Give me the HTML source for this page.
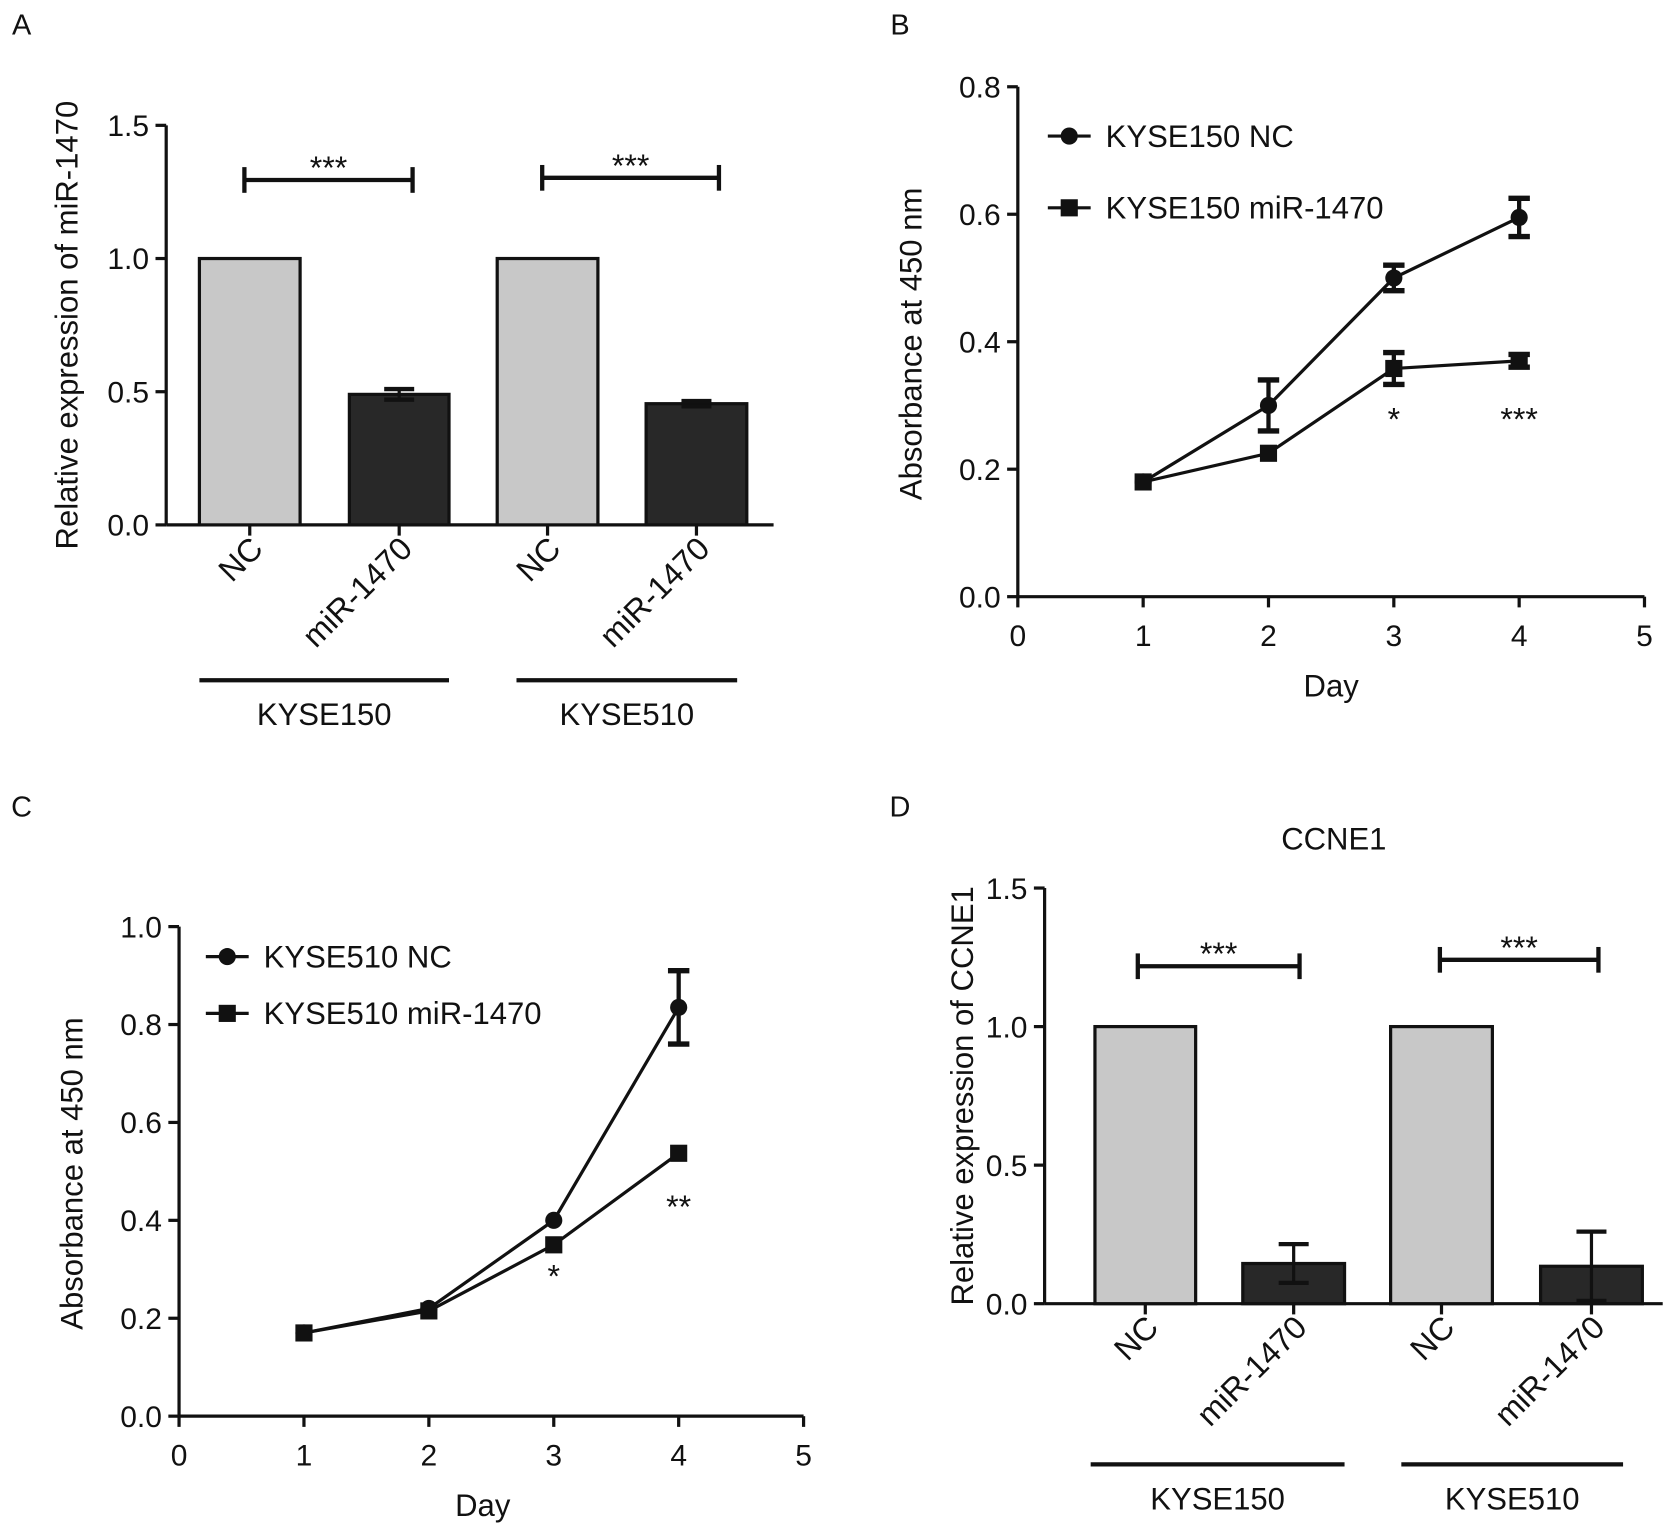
<!DOCTYPE html>
<html><head><meta charset="utf-8"><style>
html,body{margin:0;padding:0;background:#fff;}
svg{display:block;font-family:"Liberation Sans",Arial,sans-serif;}
</style></head><body>
<svg id="fig" width="1680" height="1534" viewBox="0 0 1568 1432" xmlns="http://www.w3.org/2000/svg"></svg>
<script>
// ---- Data ----
const barCats = ["NC","miR-1470","NC","miR-1470"];
const barGroups = ["KYSE150","KYSE510"];
const aValues = [1, 0.49, 1, 0.455];
const aErrors = [0, 0.02, 0, 0.01];
const dValues = [1, 0.145, 1, 0.135];
const dErrors = [0, 0.07, 0, 0.125];
const barTicks = [0, 0.5, 1.0, 1.5];
const days = [1, 2, 3, 4];
const dayTicks = [0, 1, 2, 3, 4, 5];
const bNC = [0.18, 0.30, 0.50, 0.595];
const bNCerr = [0, 0.04, 0.02, 0.03];
const bMiR = [0.18, 0.225, 0.358, 0.37];
const bMiRerr = [0, 0, 0.025, 0.01];
const bTicks = [0, 0.2, 0.4, 0.6, 0.8];
const bStars = ["", "", "*", "***"];
const cNC = [0.17, 0.22, 0.40, 0.835];
const cNCerr = [0, 0, 0, 0.075];
const cMiR = [0.17, 0.215, 0.35, 0.537];
const cMiRerr = [0, 0, 0, 0];
const cTicks = [0, 0.2, 0.4, 0.6, 0.8, 1.0];
const cStars = ["", "", "*", "**"];

const svg = document.getElementById('fig');
const NS = "http://www.w3.org/2000/svg";
function el(tag, attrs, parent, text){
  const e = document.createElementNS(NS, tag);
  for (const k in attrs) e.setAttribute(k, attrs[k]);
  if (text !== undefined) e.textContent = text;
  (parent || svg).appendChild(e);
  return e;
}
function line(x1,y1,x2,y2,w,g){ return el('line',{x1,y1,x2,y2,stroke:'#111','stroke-width':w||3},g); }
function txt(x,y,s,size,anchor,g,extra){
  const a = Object.assign({x,y,'font-size':size||26,'text-anchor':anchor||'middle',fill:'#111'}, extra||{});
  return el('text',a,g,s);
}

[["A",20,32],["B",840,32],["C",20,762],["D",840,762]].forEach(p=>{
  const t = txt(p[1],p[2],p[0],27,'middle');
  
  
});

function barPanel(cfg){
  const g = el('g',{});
  
  
  const y = v => cfg.y0 - v/1.5*(cfg.y0-cfg.y15);
  const ax = line(cfg.ax, cfg.y15, cfg.ax, cfg.y0, 3, g);
   
  const xa = line(cfg.ax, cfg.y0, cfg.xend, cfg.y0, 3, g);
   
  barTicks.forEach(t=>{
    line(cfg.ax-10, y(t), cfg.ax, y(t), 3, g);
    const l = txt(cfg.ax-16, y(t)+10, t.toFixed(1), 28, 'end', g);
     
  });
  const yt = txt(0,0,cfg.ytitle,29,'middle',g,{transform:`translate(${cfg.ytx},${(cfg.y0+cfg.y15)/2}) rotate(-90)`});
   
  cfg.vals.forEach((v,i)=>{
    const [x1,x2] = cfg.bars[i];
    const cx = (x1+x2)/2;
    const r = el('rect',{x:x1,y:y(v),width:x2-x1,height:cfg.y0-y(v),fill:i%2?'#282828':'#c8c8c8',stroke:'#111','stroke-width':3},g);
    
    
    const e = cfg.errs[i];
    if (e>0){
      line(cx,y(v+e),cx,y(v-e),3,g);
      line(cx-14,y(v+e),cx+14,y(v+e),4,g);
      line(cx-14,y(v-e),cx+14,y(v-e),4,g);
    }
    line(cx,cfg.y0,cx,cfg.y0+10,3,g);
    const lab = txt(0,0,barCats[i],30,'end',g,{transform:`translate(${cx+14},${cfg.y0+24}) rotate(-45)`});
     
  });
  cfg.groups.forEach((gr,k)=>{
    const gl = line(gr[0],cfg.gy,gr[1],cfg.gy,4,g);
     
    const t = txt((gr[0]+gr[1])/2, cfg.gy+42, barGroups[k], 29, 'middle', g);
     
  });
  cfg.brackets.forEach(b=>{
    line(b[0],b[2],b[1],b[2],4,g);
    line(b[0],b[2]-12,b[0],b[2]+12,4,g);
    line(b[1],b[2]-12,b[1],b[2]+12,4,g);
    const s = txt((b[0]+b[1])/2, b[2]-1, '***', 30, 'middle', g);
     
  });
  if (cfg.title){
    const t = txt(cfg.title[1], cfg.title[2], cfg.title[0], 29, 'middle', g);
     
  }
}

barPanel({name:'panel-a', ax:155, xend:722, y0:490, y15:117, ytx:72,
  ytitle:'Relative expression of miR-1470', vals:aValues, errs:aErrors,
  bars:[[186,280],[326,419],[464,558],[603,697]], gy:635,
  groups:[[186,419],[482,688]], brackets:[[228,385,168],[506,671,166]]});
barPanel({name:'panel-d', ax:975, xend:1552, y0:1217, y15:829, ytx:908,
  ytitle:'Relative expression of CCNE1', vals:dValues, errs:dErrors,
  bars:[[1022,1116],[1160,1255],[1298,1393],[1438,1533]], gy:1367,
  groups:[[1018,1255],[1308,1515]], brackets:[[1062,1213,902],[1344,1492,896]],
  title:['CCNE1',1245,793]});

function linePanel(cfg){
  const g = el('g',{});
  
  
  const xs = d => cfg.x0 + d*(cfg.x5-cfg.x0)/5;
  const ys = v => cfg.y0 - v/cfg.ymax*(cfg.y0-cfg.ytop);
  const ax = line(cfg.x0, cfg.ytop, cfg.x0, cfg.y0, 3, g);
   
  const xa = line(cfg.x0, cfg.y0, cfg.x5, cfg.y0, 3, g);
   
  cfg.ticks.forEach(t=>{
    line(cfg.x0-10, ys(t), cfg.x0, ys(t), 3, g);
    const l = txt(cfg.x0-16, ys(t)+10, t.toFixed(1), 28, 'end', g);
     
  });
  dayTicks.forEach(d=>{
    line(xs(d), cfg.y0, xs(d), cfg.y0+10, 3, g);
    const l = txt(xs(d), cfg.y0+46, String(d), 28, 'middle', g);
     
  });
  const xt = txt((cfg.x0+cfg.x5)/2+(cfg.name==='panel-b'?0:-8), cfg.y0+93, 'Day', 29, 'middle', g);
   
  const yt = txt(0,0,'Absorbance at 450 nm',29,'middle',g,{transform:`translate(${cfg.ytx},${(cfg.y0+cfg.ytop)/2+2}) rotate(-90)`});
   
  const series = [[cfg.nc,cfg.ncErr,'circle','nc'],[cfg.mir,cfg.mirErr,'square','mir-1470']];
  series.forEach(s=>{
    const pts = days.map((d,i)=>xs(d)+','+ys(s[0][i])).join(' ');
    const pl = el('polyline',{points:pts,fill:'none',stroke:'#111','stroke-width':3},g);
     
    days.forEach((d,i)=>{
      const x = xs(d), v = s[0][i], e = s[1][i];
      if (e>0){
        line(x,ys(v+e),x,ys(v-e),4,g);
        line(x-10,ys(v+e),x+10,ys(v+e),5,g);
        line(x-10,ys(v-e),x+10,ys(v-e),5,g);
      }
      let m;
      if (s[2]==='circle') m = el('circle',{cx:x,cy:ys(v),r:8,fill:'#111'},g);
      else m = el('rect',{x:x-8,y:ys(v)-8,width:16,height:16,fill:'#111'},g);
       
    });
  });
  days.forEach((d,i)=>{
    if (cfg.stars[i]){
      const st = txt(xs(d), cfg.starY[i], cfg.stars[i], 30, 'middle', g);
       
    }
  });
  cfg.legend.forEach((lg,k)=>{
    const lgG = el('g',{},g);
     
    line(lg[1]-20, lg[2], lg[1]+20, lg[2], 3, lgG);
    if (k===0) el('circle',{cx:lg[1],cy:lg[2],r:8,fill:'#111'},lgG);
    else el('rect',{x:lg[1]-8,y:lg[2]-8,width:16,height:16,fill:'#111'},lgG);
    txt(lg[1]+34, lg[2]+10, lg[0], 29, 'start', lgG);
  });
}

linePanel({name:'panel-b', x0:950, x5:1535, y0:557, ytop:81, ymax:0.8, ytx:860,
  ticks:bTicks, nc:bNC, ncErr:bNCerr, mir:bMiR, mirErr:bMiRerr, stars:bStars,
  starY:[0,0,402,402], legend:[['KYSE150 NC',998,127],['KYSE150 miR-1470',998,194]]});
linePanel({name:'panel-c', x0:167, x5:750, y0:1322, ytop:865, ymax:1.0, ytx:77,
  ticks:cTicks, nc:cNC, ncErr:cNCerr, mir:cMiR, mirErr:cMiRerr, stars:cStars,
  starY:[0,0,1202,1137], legend:[['KYSE510 NC',212,893],['KYSE510 miR-1470',212,946]]});
</script>
</body></html>
